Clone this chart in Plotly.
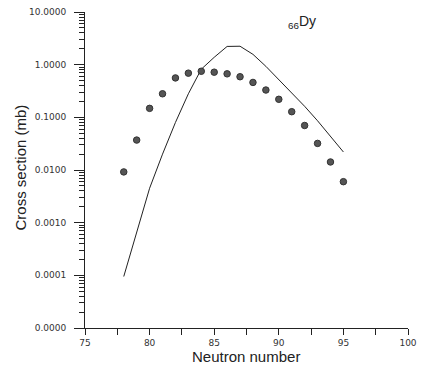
import plotly.graph_objects as go

# Data
dot_n = [78, 79, 80, 81, 82, 83, 84, 85, 86, 87, 88, 89, 90, 91, 92, 93, 94, 95]
dot_cs = [0.0092, 0.037, 0.148, 0.28, 0.56, 0.69, 0.75, 0.72, 0.67, 0.59, 0.46,
          0.33, 0.22, 0.128, 0.070, 0.032, 0.0142, 0.0060]

line_n = [78, 79, 80, 81, 82, 83, 84, 85, 86, 87, 88, 89, 90, 91, 92, 93, 94, 95]
line_cs = [9.5e-5, 6.5e-4, 0.0045, 0.020, 0.080, 0.28, 0.82, 1.38, 2.22, 2.24, 1.57,
           0.93, 0.525, 0.30, 0.162, 0.086, 0.043, 0.022]

y_major = [1e-5, 1e-4, 1e-3, 1e-2, 1e-1, 1, 10]
y_major_text = ["0.0000", "0.0001", "0.0010", "0.0100", "0.1000", "1.0000", "10.0000"]
y_minor = [m * 10.0 ** k for k in range(-5, 1) for m in range(2, 10)]
x_major = [75, 80, 85, 90, 95, 100]
x_major_text = ["75", "80", "85", "90", "95", "100"]
x_minor = [77.5, 82.5, 87.5, 92.5, 97.5]

W, H = 426, 379
L, R, T, B = 85, 18, 7, 51
pw, ph = W - L - R, H - T - B

def px_x(p):
    return (p - L) / pw

def px_y(p):
    return (H - B - p) / ph

y_all = y_major + y_minor
y_all_text = y_major_text + [""] * len(y_minor)
x_all = x_major + x_minor
x_all_text = x_major_text + [""] * len(x_minor)

fig = go.Figure()
fig.add_trace(go.Scatter(x=line_n, y=line_cs, mode="lines",
                         line=dict(color="#222222", width=1), showlegend=False))
fig.add_trace(go.Scatter(x=dot_n, y=dot_cs, mode="markers",
                         marker=dict(size=6.5, color="#555555",
                                     line=dict(color="#333333", width=1)),
                         showlegend=False))
# invisible trace carrying the long major-tick axis
fig.add_trace(go.Scatter(x=[80], y=[1], yaxis="y2", mode="markers",
                         marker=dict(opacity=0, size=1), showlegend=False,
                         hoverinfo="skip"))

tick_font = dict(family="DejaVu Sans", size=9, color="#333333")
tc = "#222222"

fig.update_layout(
    width=W, height=H,
    margin=dict(l=L, r=R, t=T, b=B, pad=0),
    paper_bgcolor="white", plot_bgcolor="white",
    xaxis=dict(range=[75, 100], tickmode="array", tickvals=x_all, ticktext=x_all_text,
               ticks="outside", ticklen=6, tickwidth=1, tickcolor=tc,
               showline=True, linecolor=tc, linewidth=1,
               showgrid=False, zeroline=False, tickfont=tick_font,
               ticklabelstandoff=0),
    yaxis=dict(type="log", range=[-5, 1], tickmode="array", tickvals=y_all,
               ticktext=y_all_text, ticks="outside", ticklen=5, tickwidth=1,
               tickcolor=tc, showline=True, linecolor=tc, linewidth=1,
               showgrid=False, zeroline=False, tickfont=tick_font,
               ticklabelstandoff=11),
    yaxis2=dict(type="log", range=[-5, 1], overlaying="y", side="left", anchor="x",
                tickmode="array", tickvals=y_major, ticks="outside", ticklen=10,
                tickwidth=1, tickcolor=tc, showticklabels=False,
                showline=False, showgrid=False, zeroline=False),
    annotations=[
        dict(text="Cross section (mb)", textangle=-90, xref="paper", yref="paper",
             x=px_x(21), y=px_y(165), showarrow=False, xanchor="center", yanchor="middle",
             font=dict(family="Liberation Sans", size=15, color="#222222")),
        dict(text="Neutron number", xref="paper", yref="paper",
             x=px_x(246), y=px_y(357), showarrow=False, xanchor="center", yanchor="middle",
             font=dict(family="Liberation Sans", size=15, color="#222222")),
        dict(text="<sub>66</sub>Dy", xref="paper", yref="paper",
             x=px_x(286), y=px_y(17), showarrow=False, xanchor="left", yanchor="middle",
             font=dict(family="Liberation Sans", size=14, color="#222222")),
    ],
)

fig.write_html("out.html", post_script="document.body.style.margin='0';",
               config={"displayModeBar": False})
